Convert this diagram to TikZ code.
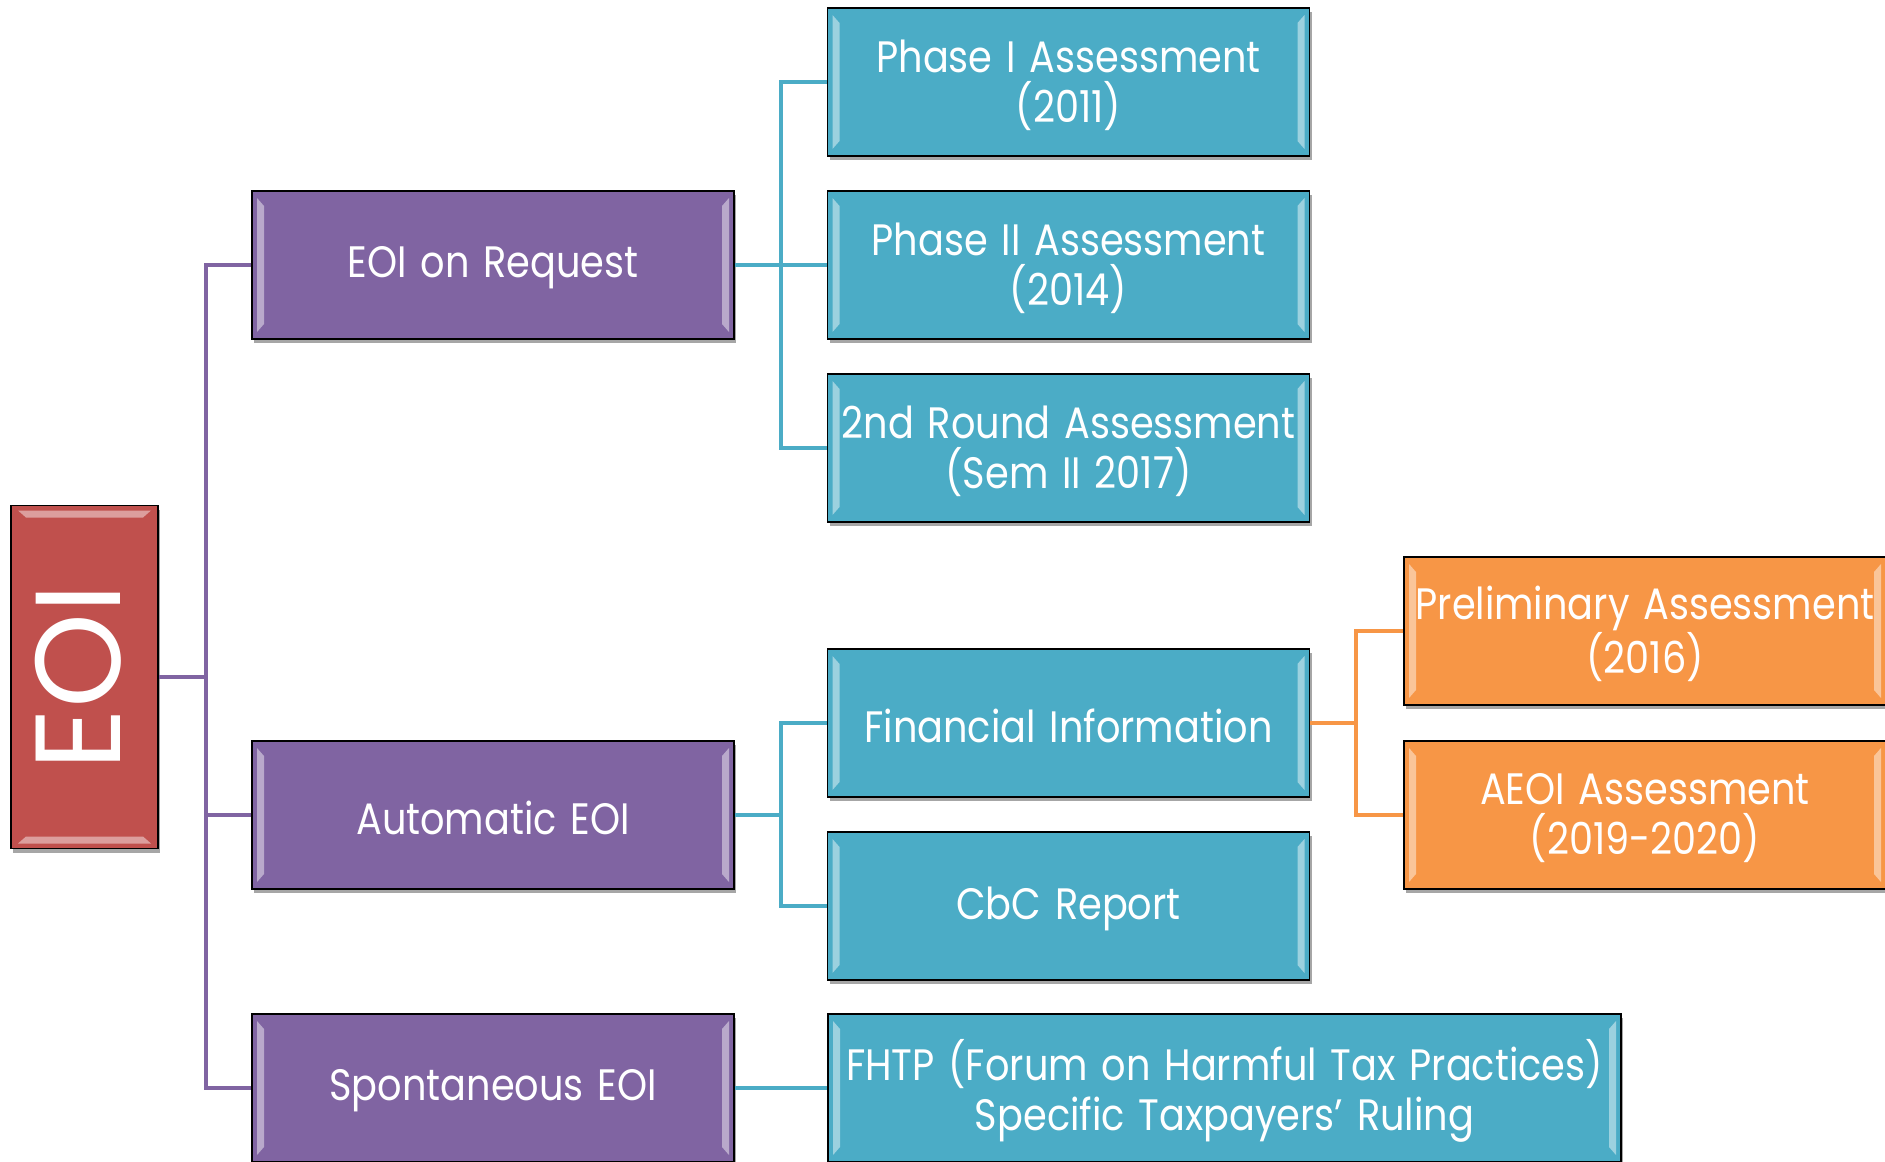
\documentclass[tikz,border=0pt]{standalone}
\usepackage{fontspec}
\setmainfont{Poppins}[FakeStretch=0.87, WordSpace=1.35]
\newfontfamily\eoifont{Poppins}
\usetikzlibrary{shadows}
\definecolor{cpurple}{HTML}{8064A2}
\definecolor{cblue}{HTML}{4BACC6}
\definecolor{corange}{HTML}{F79646}
\definecolor{cred}{HTML}{C0504D}
\newcommand{\dn}[1]{\raisebox{-3pt}[\height][\depth]{#1}}
\tikzset{
  bevelv/.style={path picture={
    \fill[white,opacity=0.45]
      ([shift={(5pt,-7pt)}]path picture bounding box.north west) -- ++(7pt,-8pt) --
      ([shift={(12pt,15pt)}]path picture bounding box.south west) -- ++(-7pt,-8pt) -- cycle;
    \fill[white,opacity=0.45]
      ([shift={(-5pt,-7pt)}]path picture bounding box.north east) -- ++(-7pt,-8pt) --
      ([shift={(-12pt,15pt)}]path picture bounding box.south east) -- ++(7pt,-8pt) -- cycle;
  }},
  bevelh/.style={path picture={
    \fill[white,opacity=0.45]
      ([shift={(7pt,-5pt)}]path picture bounding box.north west) -- ++(8pt,-7pt) --
      ([shift={(-15pt,-12pt)}]path picture bounding box.north east) -- ++(8pt,7pt) -- cycle;
    \fill[white,opacity=0.45]
      ([shift={(7pt,5pt)}]path picture bounding box.south west) -- ++(8pt,7pt) --
      ([shift={(-15pt,12pt)}]path picture bounding box.south east) -- ++(8pt,-7pt) -- cycle;
  }},
  boxbase/.style={draw=black, line width=1.8pt, text=white, align=center, inner sep=0pt,
    drop shadow={shadow xshift=2pt, shadow yshift=-4pt, opacity=0.35, fill=black}},
  box/.style={boxbase, bevelv, minimum width=482pt, minimum height=148pt,
    font=\fontsize{44}{50}\selectfont},
  pline/.style={draw=cpurple, line width=4pt},
  bline/.style={draw=cblue, line width=4pt},
  oline/.style={draw=corange, line width=4pt},
}
\begin{document}
\begin{tikzpicture}[x=1pt,y=-1pt]
\path[use as bounding box, clip] (0,0) rectangle (1885,1162);
\fill[white] (0,0) rectangle (1885,1162);

\coordinate (pj) at (206,677);
\coordinate (bj1) at (781,265);
\coordinate (bj2) at (781,815);
\coordinate (oj) at (1356,723);

% nodes
\node[boxbase, bevelh, fill=cred, minimum width=147pt, minimum height=343pt,
  font=\eoifont\fontsize{121}{121}\selectfont] (eoi) at (84.5,677)
  {\rotatebox{90}{\raisebox{0pt}[\height][13pt]{EOI}}};
\node[box, fill=cpurple] (req) at (493,265) {\dn{EOI on Request}};
\node[box, fill=cpurple] (aut) at (493,815) {\dn{Automatic EOI}};
\node[box, fill=cpurple] (spo) at (493,1088) {\dn{Spontaneous EOI}};
\node[box, fill=cblue] (p1) at (1068.5,82) {\dn{Phase I Assessment}\\\dn{(2011)}};
\node[box, fill=cblue] (p2) at (1068.5,265) {\dn{Phase II Assessment}\\\dn{(2014)}};
\node[box, fill=cblue] (r2) at (1068.5,448) {\dn{2nd Round Assessment}\\\dn{(Sem II 2017)}};
\node[box, fill=cblue] (fin) at (1068.5,723) {\dn{Financial Information}};
\node[box, fill=cblue] (cbc) at (1068.5,906) {\dn{CbC Report}};
\node[box, fill=cblue, minimum width=793pt] (fhtp) at (1224.5,1088)
  {\dn{FHTP (Forum on Harmful Tax Practices)}\\\dn{Specific Taxpayers’ Ruling}};
\node[box, fill=corange] (pre) at (1645,631) {\dn{Preliminary Assessment}\\\dn{(2016)}};
\node[box, fill=corange] (aeoi) at (1645,815) {\dn{AEOI Assessment}\\\dn{(2019-2020)}};

% connectors
\draw[pline] (eoi.east) -- (pj);
\draw[pline] (req.west) -| (pj) |- (spo.west);
\draw[pline] (aut.west) -- (aut.west -| pj);
\draw[bline] (req.east) -- (bj1);
\draw[bline] (p1.west) -| (bj1) |- (r2.west);
\draw[bline] (p2.west) -- (bj1);
\draw[bline] (aut.east) -- (bj2);
\draw[bline] (fin.west) -| (bj2) |- (cbc.west);
\draw[bline] (spo.east) -- (fhtp.west);
\draw[oline] (fin.east) -- (oj);
\draw[oline] (pre.west) -| (oj) |- (aeoi.west);
\end{tikzpicture}
\end{document}
